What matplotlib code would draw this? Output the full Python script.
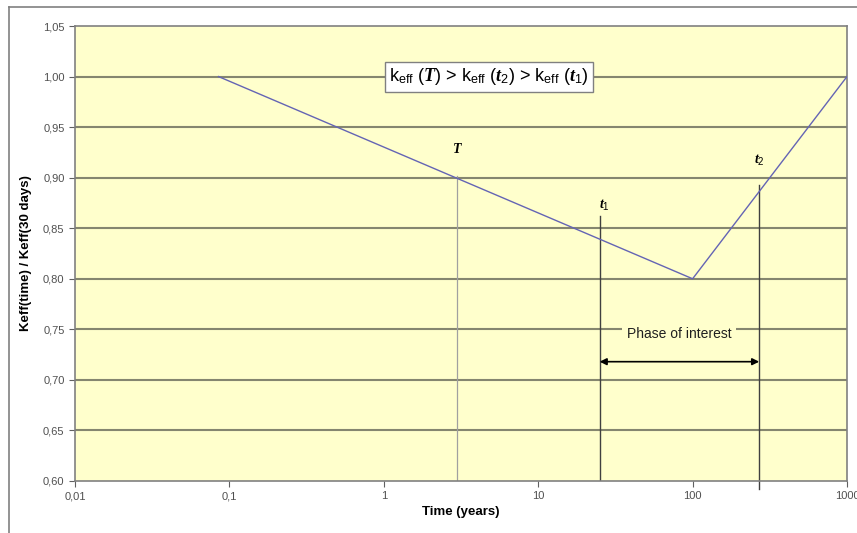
import matplotlib
matplotlib.use("Agg")
import matplotlib.pyplot as plt
from matplotlib.lines import Line2D

plt.rcParams['font.family'] = ['Liberation Sans', 'DejaVu Sans']
plt.rcParams['mathtext.fontset'] = 'custom'
plt.rcParams['mathtext.rm'] = 'Liberation Sans'
plt.rcParams['mathtext.it'] = 'Liberation Serif:italic:bold'
plt.rcParams['mathtext.cal'] = 'Liberation Serif:italic:bold'

# keff ratio curve (time in years, log scale)
time_pts = [0.085, 100, 1000]
keff_pts = [1.00, 0.80, 1.00]

# marker times and where their lines stop
t_T, t_1, t_2 = 3, 25, 270
top_T, top_1, top_2 = 0.902, 0.862, 0.893

xticks = [0.01, 0.1, 1, 10, 100, 1000]
xlabels = ['0,01', '0,1', '1', '10', '100', '1000']
yticks = [0.60, 0.65, 0.70, 0.75, 0.80, 0.85, 0.90, 0.95, 1.00, 1.05]

grid_col = '#85866F'

fig = plt.figure(figsize=(8.57, 5.33), dpi=100)
ax = fig.add_axes([75/857, 1-481/533, 772/857, 455/533])
ax.set_facecolor('#FFFFCC')

ax.set_xscale('log')
ax.set_xlim(0.01, 1000)
ax.set_ylim(0.60, 1.05)
ax.set_xticks(xticks)
ax.set_xticklabels(xlabels)
ax.minorticks_off()
ax.set_yticks(yticks)
ax.set_yticklabels([('%.2f' % v).replace('.', ',') for v in yticks])
ax.tick_params(labelsize=8, labelcolor='#505050', color='#606060',
               length=4, width=0.8, direction='out')
for s in ax.spines.values():
    s.set_color('#808080')
    s.set_linewidth(1.2)

for v in yticks[1:-1]:
    ax.axhline(v, color=grid_col, lw=1.5, zorder=1)

ax.plot(time_pts, keff_pts, color='#6464B4', lw=1.0, zorder=3)

# vertical markers
ax.plot([t_T, t_T], [0.60, top_T], color='#A0A0A0', lw=0.9, zorder=2)
ax.plot([t_1, t_1], [0.60, top_1], color='#404040', lw=1.0, zorder=2)
ax.plot([t_2, t_2], [0.592, top_2], color='#404040', lw=1.0, zorder=2, clip_on=False)

ax.text(t_T, 0.928, r'$\mathcal{T}$', ha='center', va='center', fontsize=10)
ax.text(t_1 * 1.08, 0.873, r'$\mathit{t}_{\mathit{1}}$', ha='center', va='center', fontsize=10)
ax.text(t_2, 0.917, r'$\mathit{t}_{\mathit{2}}$', ha='center', va='center', fontsize=10)

ax.text(4.8, 1.0,
        r'k$_{\mathrm{eff}}$ ($\mathcal{T}$) > k$_{\mathrm{eff}}$ ($\mathit{t}_{\mathit{2}}$) > k$_{\mathrm{eff}}$ ($\mathit{t}_{\mathit{1}}$)',
        ha='center', va='center', fontsize=13, zorder=5,
        bbox=dict(boxstyle='square,pad=0.25', fc='white', ec='#808080', lw=1))

# phase of interest arrow
ax.annotate('', xy=(t_2, 0.718), xytext=(t_1, 0.718),
            arrowprops=dict(arrowstyle='<|-|>', color='black', lw=1.2,
                            shrinkA=0, shrinkB=0, mutation_scale=10))
ax.text(82, 0.745, 'Phase of interest', ha='center', va='center', fontsize=10,
        color='#202020', zorder=5,
        bbox=dict(boxstyle='square,pad=0.35', fc='#FFFFCC', ec='none'))

ax.set_xlabel('Time (years)', fontsize=9.5, fontweight='bold', labelpad=3)
ax.set_ylabel('Keff(time) / Keff(30 days)', fontsize=9.5, fontweight='bold', labelpad=8)

# outer frame of the chart
fig.add_artist(Line2D([9/857, 9/857], [0, 1-7/533], color='#808080', lw=1.2))
fig.add_artist(Line2D([9/857, 1], [1-7/533, 1-7/533], color='#808080', lw=1.2))

fig.savefig('out.png', dpi=100)
